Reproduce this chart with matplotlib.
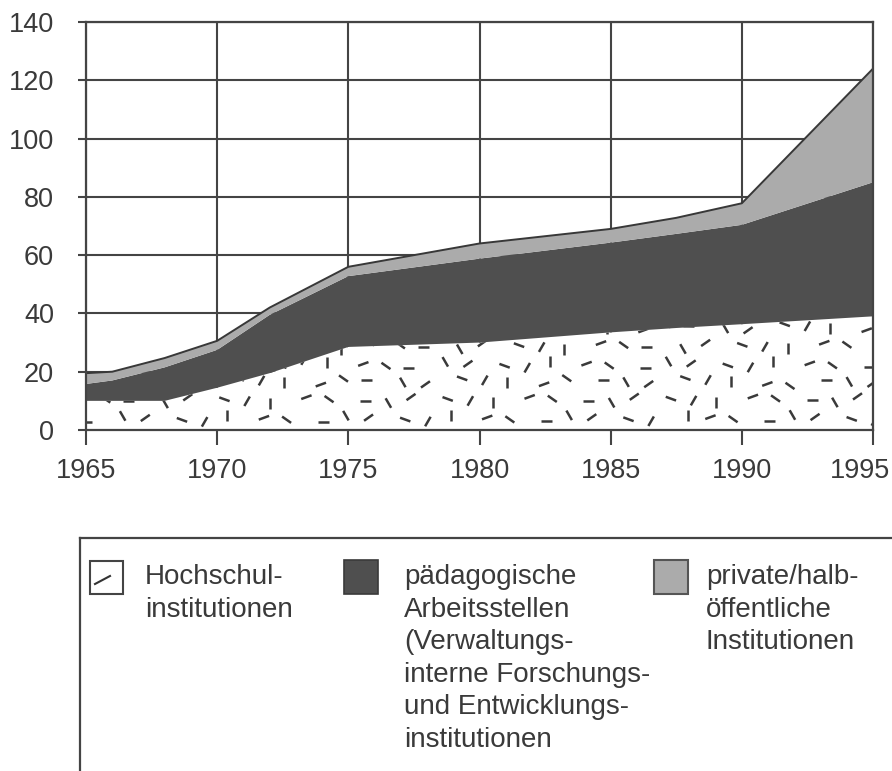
import numpy as np
import matplotlib
matplotlib.use('Agg')
import matplotlib.pyplot as plt
from matplotlib import font_manager
from matplotlib.collections import LineCollection
from matplotlib.patches import Rectangle
from matplotlib.transforms import ScaledTranslation

# values (stacked areas)
years = [1965, 1966, 1968, 1970, 1972, 1975, 1980, 1985, 1987.5, 1990, 1995]
hochschul = [10, 10, 10, 14.5, 19.5, 28.5, 30, 33.5, 35, 36.3, 39]
paedagogisch = [5.8, 7, 11.5, 13, 20, 24.3, 28.8, 30.8, 32.3, 34.1, 46]
privat = [3.7, 3, 3.2, 3.1, 2.5, 3.2, 5.2, 4.7, 5.5, 7.4, 39]

x_ticks = [1965, 1970, 1975, 1980, 1985, 1990, 1995]
y_ticks = [0, 20, 40, 60, 80, 100, 120, 140]

labels = ['Hochschul-\ninstitutionen',
          'pädagogische\nArbeitsstellen\n(Verwaltungs-\ninterne Forschungs-\nund Entwicklungs-\ninstitutionen',
          'private/halb-\nöffentliche\nInstitutionen']

# font: narrow sans if there is one
names = {f.name for f in font_manager.fontManager.ttflist}
fam = 'Liberation Sans Narrow' if 'Liberation Sans Narrow' in names else 'Liberation Sans'
plt.rcParams['font.family'] = [fam, 'DejaVu Sans']

grey = '#444444'
dark = '#4f4f4f'
light = '#ababab'
txtc = '#3a3a3a'

fig = plt.figure(figsize=(8.92, 7.71), dpi=100)
ax = fig.add_axes([86/892, (771-430)/771, 787/892, 408/771])

polys = ax.stackplot(years, hochschul, paedagogisch, privat,
                     colors=['white', dark, light], linewidth=0)
top = np.array(hochschul) + np.array(paedagogisch) + np.array(privat)
ax.plot(years, top, color='#383838', lw=1.4, zorder=2)

# scattered dash texture for the Hochschul area
segs = []
ang_set = [0, 90, 35, -35, 60, -60, 20, -20]
for j in range(9):
    for i in range(30):
        fx = (i * 0.6180339 + j * 0.4142136) % 1.0
        fy = (i * 0.7548777 + j * 0.5698403) % 1.0
        px = 86 + i * 28 + (j % 2) * 14 + fx * 14
        py = 8 + j * 18 + fy * 8
        a = np.radians(ang_set[(i * 5 + j * 3) % len(ang_set)])
        dxp, dyp = 5.5 * np.cos(a), 5.5 * np.sin(a)
        x0 = 1965 + (px - dxp - 86) / 26.23
        x1 = 1965 + (px + dxp - 86) / 26.23
        y0 = (py - dyp) / 2.914
        y1 = (py + dyp) / 2.914
        segs.append([(x0, y0), (x1, y1)])
lc = LineCollection(segs, colors='#3a3a3a', linewidths=1.8, zorder=1.5)
lc.set_clip_path(polys[0].get_paths()[0], ax.transData)
ax.add_collection(lc)

ax.set_xlim(1965, 1995)
ax.set_ylim(0, 140)
ax.set_xticks(x_ticks)
ax.set_yticks(y_ticks)
ax.set_axisbelow(True)
ax.grid(True, color=grey, lw=1.5)
for s in ax.spines.values():
    s.set_color(grey)
    s.set_linewidth(1.6)
ax.tick_params(axis='x', length=11, width=1.5, color=grey, pad=9,
               labelsize=19.5, labelcolor=txtc)
ax.tick_params(axis='y', length=6, width=1.5, color=grey, pad=17,
               labelsize=19.5, labelcolor=txtc)
# last year label sits against the right edge
last = ax.get_xticklabels()[-1]
last.set_ha('right')
last.set_transform(last.get_transform() + ScaledTranslation(0.17, 0, fig.dpi_scale_trans))

# legend block drawn in pixel coordinates
lg = fig.add_axes([0, 0, 1, 1])
lg.set_xlim(0, 892)
lg.set_ylim(771, 0)
lg.axis('off')
lg.plot([80, 892], [538, 538], color=grey, lw=1.6)
lg.plot([80, 80], [538, 771], color=grey, lw=1.6)
lg.add_patch(Rectangle((90, 561), 33, 33, facecolor='white', edgecolor=grey, lw=1.5))
lg.plot([95, 110], [584, 576], color='#333333', lw=1.5)
lg.add_patch(Rectangle((344, 560), 34, 34, facecolor=dark, edgecolor='#3a3a3a', lw=1.2))
lg.add_patch(Rectangle((654, 560), 34, 34, facecolor=light, edgecolor='#555555', lw=1.5))
for xt, txt in zip([145, 404, 706], labels):
    lg.text(xt, 564, txt, fontsize=20, color=txtc, va='top', ha='left',
            linespacing=1.33)

fig.savefig('out.png', dpi=100)
